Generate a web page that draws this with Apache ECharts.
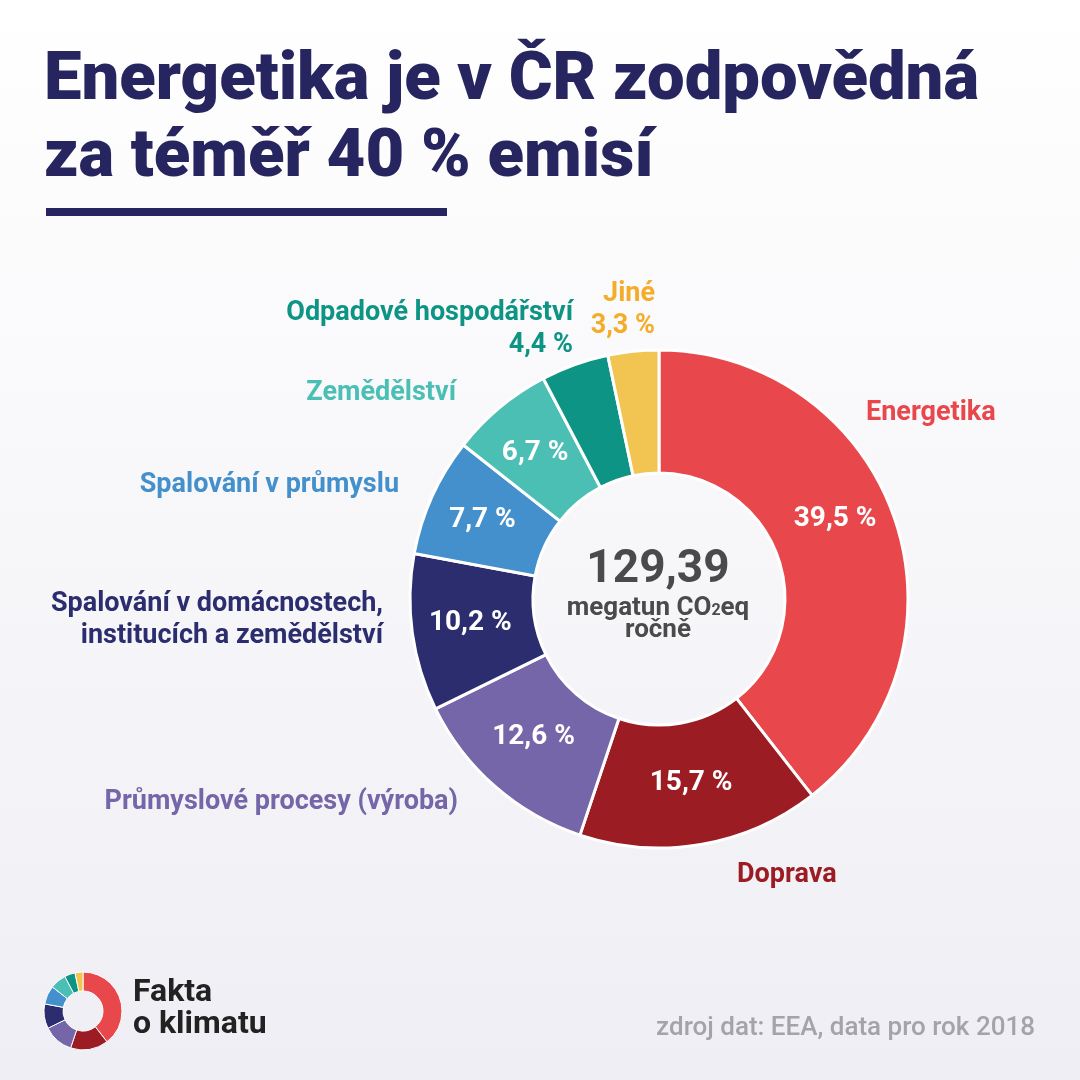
<!DOCTYPE html>
<html>
<head>
<meta charset="utf-8">
<script src="https://cdn.jsdelivr.net/npm/echarts@6/dist/echarts.min.js"></script>
<style>
html,body{margin:0;padding:0;}
#chart{width:1080px;height:1080px;}
</style>
</head>
<body>
<div id="chart"></div>
<script>
// ---- data ----
const categories = [
  'Energetika',
  'Doprava',
  'Průmyslové procesy (výroba)',
  'Spalování v domácnostech,\ninstitucích a zemědělství',
  'Spalování v průmyslu',
  'Zemědělství',
  'Odpadové hospodářství',
  'Jiné'
];
const shares = [39.5, 15.7, 12.6, 10.2, 7.7, 6.7, 4.4, 3.3];
const totalEmissions = '129,39';
const titleText = 'Energetika je v ČR zodpovědná\nza téměř 40 % emisí';
const sourceText = 'zdroj dat: EEA, data pro rok 2018';

// ---- styles ----
const sliceColors = ['#e8474b', '#9c1c23', '#7565a9', '#2b2d6e', '#4390cc', '#4bbfb3', '#0e9484', '#f2c452'];
const textColors  = ['#e8474b', '#9c1c23', '#7565a9', '#2b2d6e', '#4390cc', '#4bbfb3', '#0e9484', '#f4ad2a'];
const insidePct = [true, true, true, true, true, true, false, false];
const insideOffset = [[-4, -18], [0, -4], [0, -5], [0, -2], [-3, 0], [-2, 0], [0, 0], [0, 0]];
// outer label anchor: [x, y, align]
const outerPos = [
  [866, 413, 'left'],
  [737, 875, 'left'],
  [458, 802, 'right'],
  [383, 620, 'right'],
  [399, 485, 'right'],
  [456, 393, 'right'],
  [573, 329, 'right'],
  [655, 310, 'right']
];

const fmt = v => v.toFixed(1).replace('.', ',') + ' %';
const FONT = 'Roboto, "Noto Sans", sans-serif';

const chart = echarts.init(document.getElementById('chart'), null, {renderer: 'canvas'});

const graphics = [
  {
    type: 'rect', z: -10, silent: true,
    shape: {x: 0, y: 0, width: 1080, height: 1080},
    style: {
      fill: new echarts.graphic.LinearGradient(0, 0, 0, 1, [
        {offset: 0, color: '#ffffff'},
        {offset: 1, color: '#efeef4'}
      ])
    }
  },
  {
    type: 'text', left: 44, top: 44,
    style: {text: titleText, fill: '#27255f', font: '900 67px ' + FONT, lineHeight: 77}
  },
  {
    type: 'rect', shape: {x: 46, y: 208, width: 401, height: 8}, style: {fill: '#27255f'}
  },
  {
    type: 'text', x: 658, y: 570,
    style: {text: totalEmissions, fill: '#4a4a4a', font: 'bold 46px ' + FONT, align: 'center', verticalAlign: 'middle'}
  },
  {
    type: 'text', x: 658, y: 619,
    style: {
      text: '{a|megatun CO}{s|2}{a|eq}\n{a|ročně}',
      align: 'center', verticalAlign: 'middle',
      rich: {
        a: {fill: '#4a4a4a', font: 'bold 26px ' + FONT, lineHeight: 22},
        s: {fill: '#4a4a4a', font: 'bold 16px ' + FONT, lineHeight: 12, padding: [10, 0, 0, 0], verticalAlign: 'bottom'}
      }
    }
  },
  {
    type: 'text', left: 133, top: 977,
    style: {text: 'Fakta\no klimatu', fill: '#222222', font: 'bold 32px ' + FONT, lineHeight: 32}
  },
  {
    type: 'text', x: 1035, y: 1028,
    style: {text: sourceText, fill: '#a3a3aa', font: '500 26px ' + FONT, align: 'right', verticalAlign: 'middle'}
  }
];

categories.forEach((name, i) => {
  const p = outerPos[i];
  const txt = insidePct[i] ? name : name + '\n' + fmt(shares[i]);
  graphics.push({
    type: 'text', x: p[0], y: p[1],
    style: {
      text: txt, fill: textColors[i], font: 'bold 27px ' + FONT,
      align: p[2], verticalAlign: 'middle', lineHeight: 32
    }
  });
});

const mainData = shares.map((v, i) => ({
  name: categories[i],
  value: v,
  itemStyle: {color: sliceColors[i]},
  label: {
    show: insidePct[i],
    offset: insideOffset[i]
  }
}));

const logoData = shares.map((v, i) => ({
  name: categories[i], value: v, itemStyle: {color: sliceColors[i]}
}));

chart.setOption({
  animation: false,
  graphic: graphics,
  series: [
    {
      type: 'pie',
      center: [659, 599],
      radius: [126, 249],
      startAngle: 90,
      clockwise: true,
      silent: true,
      itemStyle: {borderColor: '#ffffff', borderWidth: 3},
      label: {
        position: 'inside',
        formatter: p => fmt(p.value),
        color: '#ffffff',
        fontFamily: FONT,
        fontWeight: 'bold',
        fontSize: 28
      },
      labelLine: {show: false},
      data: mainData
    },
    {
      type: 'pie',
      center: [83, 1011],
      radius: [20, 39],
      startAngle: 90,
      clockwise: true,
      silent: true,
      itemStyle: {borderColor: '#ffffff', borderWidth: 1},
      label: {show: false},
      labelLine: {show: false},
      data: logoData
    }
  ]
});
</script>
</body>
</html>
